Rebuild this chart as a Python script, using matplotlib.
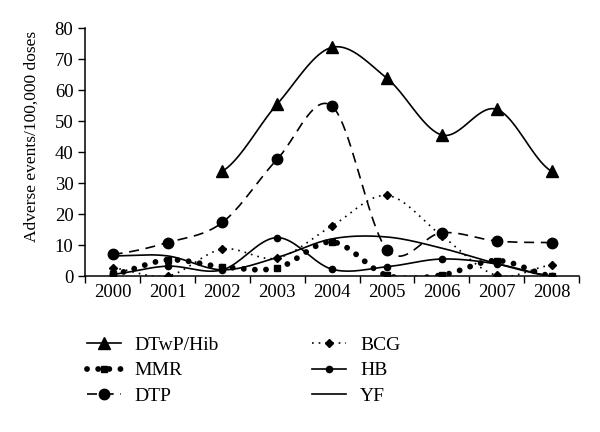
import matplotlib
matplotlib.use('Agg')
import matplotlib.pyplot as plt
import numpy as np

plt.rcParams['font.family'] = 'Liberation Serif'

# Dữ liệu
years = ['2000', '2001', '2002', '2003', '2004', '2005', '2006', '2007', '2008']
dtwp_hib = [np.nan, np.nan, 33.8, 55.5, 73.8, 63.8, 45.5, 53.8, 33.8]
mmr = [0.6, 5.2, 3.0, 2.6, 11.0, 0.2, 0.3, 5.0, 0.0]
dtp = [7.0, 10.8, 17.3, 37.7, 54.8, 8.5, 14.0, 11.3, 10.8]
bcg = [2.6, 0.0, 8.7, 5.8, 16.2, 26.0, 13.0, 0.2, 3.5]
hb = [0.6, 3.2, 2.0, 12.4, 2.2, 3.0, 5.5, 3.9, 0.0]
yf = [6.5, 6.5, 2.0, 6.0, 12.0, 12.6, 9.0, 4.0, 0.0]


def smooth(y, n=20):
    # đường cong kiểu Catmull-Rom như "smoothed line" của Excel
    y = np.asarray(y, dtype=float)
    idx = np.where(~np.isnan(y))[0]
    x = idx.astype(float)
    v = y[idx]
    xs, ys = [], []
    for i in range(len(x) - 1):
        p0 = v[i - 1] if i > 0 else v[i]
        p3 = v[i + 2] if i + 2 < len(v) else v[i + 1]
        p1, p2 = v[i], v[i + 1]
        t = np.linspace(0, 1, n, endpoint=False)
        seg = 0.5 * (2 * p1 + (-p0 + p2) * t + (2 * p0 - 5 * p1 + 4 * p2 - p3) * t ** 2
                     + (-p0 + 3 * p1 - 3 * p2 + p3) * t ** 3)
        xs.append(x[i] + t)
        ys.append(seg)
    xs.append([x[-1]])
    ys.append([v[-1]])
    return np.concatenate(xs), np.concatenate(ys)


fig = plt.figure(figsize=(6, 4.32), dpi=100)
ax = fig.add_axes([0.142, 0.361, 0.823, 0.574])
pos = np.arange(len(years))

series = [
    ('DTwP/Hib', dtwp_hib, dict(linestyle='-', linewidth=1.2), dict(marker='^', markersize=8)),
    ('MMR', mmr, dict(linestyle=(0, (0.01, 1.9)), linewidth=4.2, dash_capstyle='round'),
     dict(marker='s', markersize=4.5)),
    ('DTP', dtp, dict(linestyle=(0, (6, 4)), linewidth=1.2), dict(marker='o', markersize=7.5)),
    ('BCG', bcg, dict(linestyle=(0, (1, 3)), linewidth=1.2), dict(marker='D', markersize=4)),
    ('HB', hb, dict(linestyle='-', linewidth=1.2), dict(marker='o', markersize=4.5)),
    ('YF', yf, dict(linestyle='-', linewidth=1.2), dict(marker='None')),
]

handles = []
for name, vals, lstyle, mstyle in series:
    sx, sy = smooth(vals)
    ax.plot(sx, sy, color='black', **lstyle)
    ax.plot(pos, vals, color='black', linestyle='None', **mstyle)
    h, = ax.plot([], [], color='black', label=name, **lstyle, **mstyle)
    handles.append(h)

ax.set_xlim(-0.5, 8.5)
ax.set_ylim(0, 80)
ax.set_yticks(np.arange(0, 81, 10))
ax.set_xticks(np.arange(-0.5, 9, 1))
ax.set_xticklabels([])
ax.set_xticks(pos, minor=True)
ax.set_xticklabels(years, minor=True)
ax.tick_params(axis='x', which='major', length=5, direction='out', width=1)
ax.tick_params(axis='x', which='minor', length=0, pad=6)
ax.tick_params(axis='y', length=5, direction='out', width=1)
ax.tick_params(which='both', labelsize=13.5)
for s in ['top', 'right']:
    ax.spines[s].set_visible(False)
ax.spines['left'].set_linewidth(1.1)
ax.spines['bottom'].set_linewidth(1.1)
ax.set_ylabel('Adverse events/100,000 doses', fontsize=12.5)
ax.yaxis.set_label_coords(-0.092, 0.565)

fig.legend(handles=handles, loc='upper left', bbox_to_anchor=(0.145, 0.222), ncol=2,
           frameon=False, fontsize=14, numpoints=1, handlelength=1.75,
           columnspacing=4.8, labelspacing=0.42, handletextpad=0.7,
           borderpad=0, borderaxespad=0)

fig.savefig('out.png', dpi=100, facecolor='white')
